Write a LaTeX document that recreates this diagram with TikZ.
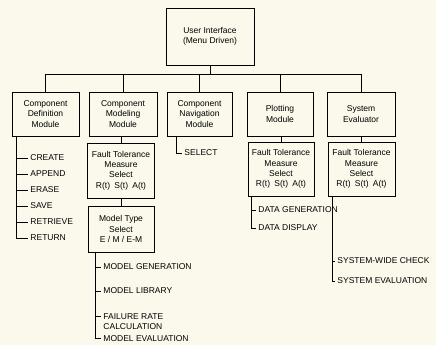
\documentclass[tikz,border=0pt]{standalone}
\usepackage{fontspec}
\setmainfont{Liberation Sans}
\usepackage{tikz}
\definecolor{paper}{RGB}{251,249,236}

\begin{document}
\begin{tikzpicture}[x=1pt,y=-1pt,line width=0.9pt,
	box/.style={draw,align=center,inner sep=1pt,font=\fontsize{8.5}{10.3}\selectfont},
	item/.style={anchor=west,align=left,inner sep=2pt,font=\fontsize{8.5}{10}\selectfont}]
				\fill[paper] (0,0) rectangle (436,345);
				\useasboundingbox (0,0) rectangle (436,345);
				
				\node[box,minimum width=88pt,minimum height=57pt] (ui) at (210,36.5) {User Interface\\(Menu Driven)};
				
				\node[box,minimum width=67pt,minimum height=44pt] (cdm) at (45.5,114) {Component\\Definition\\Module};
				\node[box,minimum width=68pt,minimum height=44pt] (cmm) at (123,114) {Component\\Modeling\\Module};
				\node[box,minimum width=65pt,minimum height=44pt] (cnm) at (199.5,114) {Component\\Navigation\\Module};
				\node[box,minimum width=66pt,minimum height=44pt] (pm) at (280,114) {Plotting\\Module};
				\node[box,minimum width=68pt,minimum height=44pt] (se) at (361,114) {System\\Evaluator};
				
				\node[box,minimum width=67pt,minimum height=55pt] (ftm) at (121,170.5) {Fault Tolerance\\Measure\\Select\\R(t)\enspace S(t)\enspace A(t)};
				\node[box,minimum width=66pt,minimum height=46pt] (mt) at (121,229) {Model Type\\Select\\E / M / E-M};
				\node[box,minimum width=66pt,minimum height=54pt] (ftp) at (281,169) {Fault Tolerance\\Measure\\Select\\R(t)\enspace S(t)\enspace A(t)};
				\node[box,minimum width=67pt,minimum height=54pt] (fts) at (361.5,169) {Fault Tolerance\\Measure\\Select\\R(t)\enspace S(t)\enspace A(t)};
				
				\coordinate (bus) at (210,74);
				\foreach \m in {cdm,cmm,cnm,pm,se}
					\draw (ui.south) |- (\m.north |- bus) -- (\m.north);
				\draw (ftm.north) -- (ftm.north |- cmm.south);
				\draw (mt.north) -- (mt.north |- ftm.south);
				\draw (ftp.north) -- (ftp.north |- pm.south);
				\draw (fts.north) -- (fts.north |- se.south);
				
				% definition list
				\coordinate (deftap) at (16,136);
				\foreach \n/\t/\y in {create/CREATE/158,append/APPEND/174,erase/ERASE/190,save/SAVE/206,retrieve/RETRIEVE/222,return/RETURN/238}
					\node[item] (\n) at (28,\y) {\t};
				\foreach \n in {create,append,erase,save,retrieve}
					\draw (deftap |- \n.west) -- (\n.west);
				\draw (deftap) |- (return.west);
				
				% navigation list
				\coordinate (navtap) at (176,136);
				\node[item] (select) at (182,153) {SELECT};
				\draw (navtap) |- (select.west);
				
				% modeling list
				\coordinate (modtap) at (95,252);
				\node[item] (mgen) at (101,267) {MODEL GENERATION};
				\node[item] (mlib) at (101,291) {MODEL LIBRARY};
				\node[item] (fail) at (101,322) {FAILURE RATE\\CALCULATION};
				\node[item] (meval) at (101,338.5) {MODEL EVALUATION};
				\coordinate (failtick) at ([yshift=-5pt]fail.north west);
				\draw (modtap |- mgen.west) -- (mgen.west);
				\draw (modtap |- mlib.west) -- (mlib.west);
				\draw (modtap |- failtick) -- (failtick);
				\draw (modtap) |- (meval.west);
				
				% plotting list
				\coordinate (plottap) at (251,196);
				\node[item] (dgen) at (256,210) {DATA GENERATION};
				\node[item] (ddisp) at (256,228) {DATA DISPLAY};
				\draw (plottap |- dgen.west) -- (dgen.west);
				\draw (plottap) |- (ddisp.west);
				
				% evaluator list
				\coordinate (systap) at (332,196);
				\node[item] (swc) at (335,261) {SYSTEM-WIDE CHECK};
				\node[item] (seval) at (335,281) {SYSTEM EVALUATION};
				\draw (systap |- swc.west) -- (swc.west);
				\draw (systap) |- (seval.west);
			\end{tikzpicture}
\end{document}
